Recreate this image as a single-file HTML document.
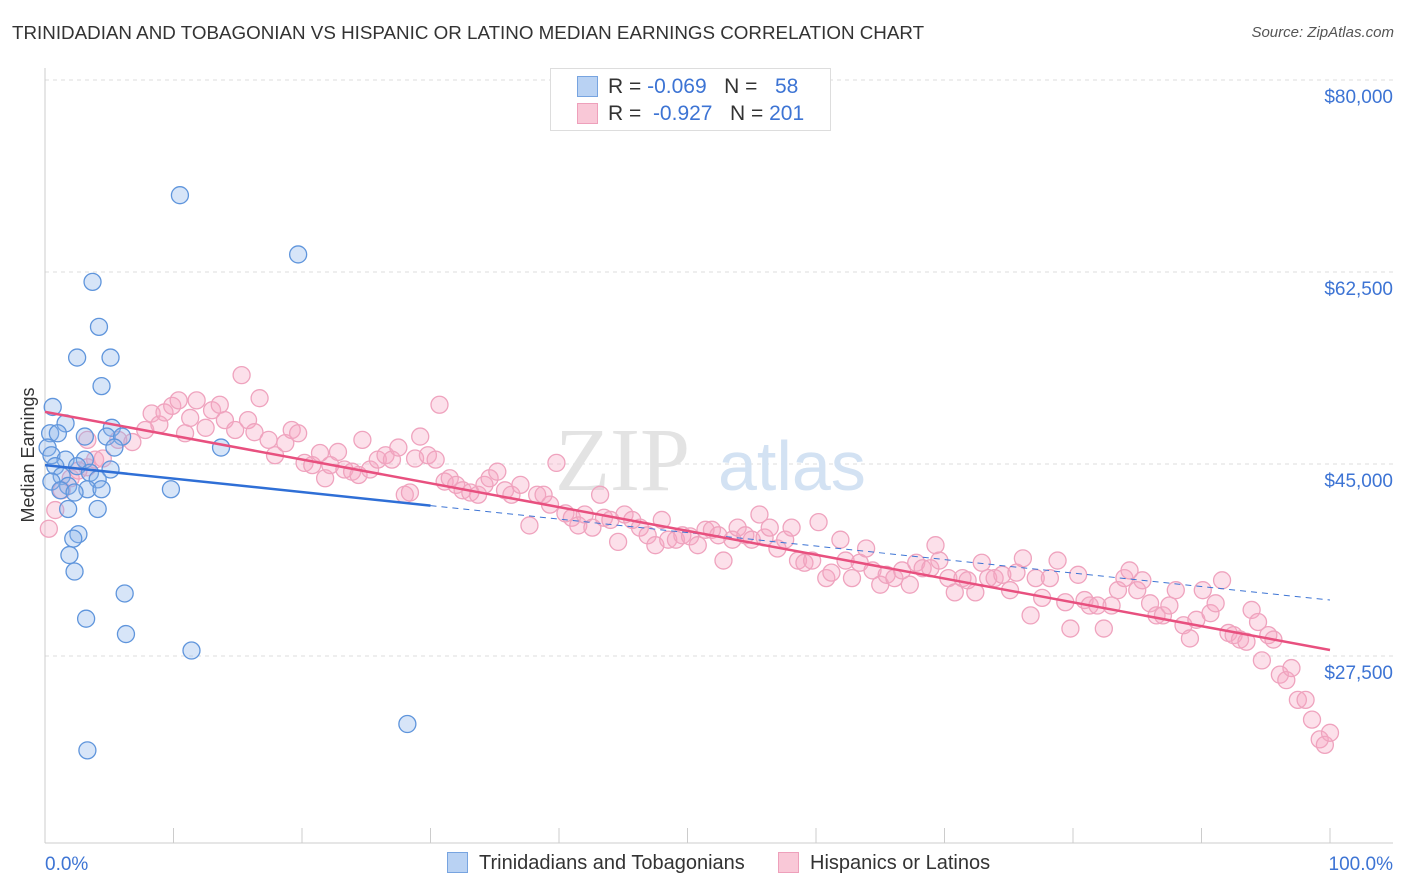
<!DOCTYPE html>
<html><head><meta charset="utf-8">
<style>
body{margin:0;background:#fff;font-family:"Liberation Sans",sans-serif;}
#wrap{position:relative;width:1406px;height:892px;overflow:hidden;}
.t{position:absolute;white-space:nowrap;}
</style></head>
<body>
<div id="wrap">
<div class="t" style="left:12px;top:22px;font-size:18.8px;color:#333;">TRINIDADIAN AND TOBAGONIAN VS HISPANIC OR LATINO MEDIAN EARNINGS CORRELATION CHART</div>
<div class="t" style="right:12px;top:24px;font-size:15px;color:#555;font-style:italic;">Source: ZipAtlas.com</div>
<svg id="plot" width="1406" height="892" style="position:absolute;left:0;top:0"></svg>
</div>
<script>
const yTicks=[80000,62500,45000,27500];
const yTickLabels=["$80,000","$62,500","$45,000","$27,500"];
const xTickLabels=["0.0%","100.0%"];
const blueX=[10.5,19.7,3.7,4.2,2.5,5.1,4.4,0.6,1.6,5.2,0.4,1.0,3.1,4.8,6.0,5.4,13.7,0.2,0.5,1.6,3.1,0.8,2.5,5.1,3.5,1.3,4.1,0.5,1.8,1.2,3.3,4.4,2.3,9.8,1.8,4.1,2.6,2.2,1.9,2.3,6.2,3.2,6.3,11.4,28.2,3.3];
const blueY=[69.5,64.1,61.6,57.5,54.7,54.7,52.1,50.2,48.7,48.3,47.8,47.8,47.5,47.5,47.5,46.5,46.5,46.5,45.8,45.4,45.4,44.8,44.8,44.5,44.2,43.9,43.6,43.4,43.0,42.6,42.7,42.7,42.4,42.7,40.9,40.9,38.6,38.2,36.7,35.2,33.2,30.9,29.5,28.0,21.3,18.9];
const pinkX=[0.3,0.8,1.3,2.0,2.6,3.3,3.9,4.5,3.3,5.7,6.8,7.8,8.3,8.9,9.3,9.9,10.4,10.9,11.3,11.8,12.5,13.0,13.6,14.0,14.8,15.3,15.8,16.3,16.7,17.4,17.9,18.7,19.2,19.7,20.2,20.8,21.4,21.8,22.2,22.8,23.3,23.9,24.4,24.7,25.3,25.9,26.5,27.0,27.5,28.0,28.4,28.8,29.2,29.8,30.4,30.7,31.1,31.5,32.0,32.5,33.1,33.7,34.2,34.6,35.2,35.8,36.3,37.0,37.7,38.3,38.8,39.3,39.8,40.5,41.0,41.5,42.0,42.6,43.2,43.5,44.0,44.6,45.1,45.7,46.3,46.9,47.5,48.0,48.5,49.1,49.6,50.2,50.8,51.4,51.9,52.4,52.8,53.5,53.9,54.5,55.0,55.6,56.0,56.4,57.0,57.6,58.1,58.6,59.1,59.7,60.2,60.8,61.2,61.9,62.3,62.8,63.4,63.9,64.4,65.0,65.5,66.1,66.7,67.3,67.8,68.3,68.9,69.3,69.6,70.3,70.8,71.4,71.8,72.4,72.9,73.4,73.9,74.5,75.1,75.6,76.1,76.7,77.1,77.6,78.2,78.8,79.4,79.8,80.4,80.9,81.3,81.9,82.4,83.0,83.5,84.0,84.4,85.0,85.4,86.0,86.5,87.0,87.5,88.0,88.6,89.1,89.6,90.1,90.7,91.1,91.6,92.1,92.5,93.0,93.5,93.9,94.4,94.7,95.2,95.6,96.1,96.6,97.0,97.5,98.1,98.6,99.2,99.6,100.0];
const pinkY=[39.1,40.8,42.6,43.7,44.4,44.7,45.4,45.5,47.2,47.2,47.0,48.1,49.6,48.6,49.7,50.3,50.8,47.8,49.2,50.8,48.3,49.9,50.4,49.0,48.1,53.1,49.0,47.9,51.0,47.2,45.8,46.9,48.1,47.8,45.1,44.9,46.0,43.7,44.9,46.1,44.5,44.3,44.0,47.2,44.5,45.4,45.8,45.4,46.5,42.2,42.4,45.5,47.5,45.8,45.4,50.4,43.4,43.7,43.1,42.6,42.4,42.2,43.1,43.7,44.3,42.6,42.2,43.1,39.4,42.2,42.2,41.3,45.1,40.5,40.1,39.4,40.4,39.2,42.2,40.1,39.9,37.9,40.4,39.9,39.2,38.5,37.6,39.9,38.1,38.1,38.5,38.4,37.6,39.0,39.0,38.5,36.2,38.1,39.2,38.5,38.1,40.4,38.3,39.2,37.3,38.1,39.2,36.2,36.0,36.2,39.7,34.6,35.1,38.1,36.2,34.6,36.0,37.3,35.3,34.0,34.9,34.6,35.3,34.0,36.0,35.5,35.5,37.6,36.2,34.6,33.3,34.6,34.4,33.3,36.0,34.6,34.6,34.9,33.5,35.1,36.4,31.2,34.6,32.8,34.6,36.2,32.4,30.0,34.9,32.6,32.1,32.1,30.0,32.1,33.5,34.6,35.3,33.5,34.4,32.3,31.2,31.2,32.1,33.5,30.3,29.1,30.8,33.5,31.4,32.3,34.4,29.6,29.4,29.0,28.8,31.7,30.6,27.1,29.4,29.0,25.8,25.3,26.4,23.5,23.5,21.7,19.9,19.4,20.5];
const blueTrend=[44.9,32.6];
const pinkTrend=[49.75,28.05];
const NS="http://www.w3.org/2000/svg";
const svg=document.getElementById('plot');
const X0=45,X1=1330;
function sx(p){return X0+(X1-X0)*p/100;}
function sy(v){return 80+(80000-v)*192/17500;}
function mk(tag,attrs,parent){const e=document.createElementNS(NS,tag);for(const k in attrs)e.setAttribute(k,attrs[k]);(parent||svg).appendChild(e);return e;}
yTicks.forEach((v,i)=>{
 const g=mk('line',{x1:45,x2:1393,y1:sy(v),y2:sy(v),stroke:'#ddd','stroke-dasharray':'4,4'});
 
 
 const t=mk('text',{x:1393,y:sy(v)+23,'text-anchor':'end','font-size':19,fill:'#3d74d4','font-family':'Liberation Sans'});
 t.textContent=yTickLabels[i];
 
 
});
const ya=mk('line',{x1:45,x2:45,y1:68,y2:843,stroke:'#ccc'});


const xa=mk('line',{x1:45,x2:1393,y1:843,y2:843,stroke:'#ccc'});


for(let i=0;i<=10;i++){const tk=mk('line',{x1:sx(i*10),x2:sx(i*10),y1:828,y2:843,stroke:'#ccc'});
 
 }
[[0,'start',45],[1,'end',1393]].forEach(([i,a,x])=>{const t=mk('text',{x:x,y:870,'text-anchor':a,'font-size':19,fill:'#3d74d4','font-family':'Liberation Sans'});t.textContent=xTickLabels[i];
 
 });
const yt=mk('text',{x:0,y:0,transform:'translate(34,455) rotate(-90)','text-anchor':'middle','font-size':18,fill:'#333','font-family':'Liberation Sans'});yt.textContent='Median Earnings';


const wm=mk('text',{x:555,y:490,'font-size':90,fill:'#e3e3e3','font-family':'Liberation Serif'});wm.textContent='ZIP';


const wm2=mk('text',{x:718,y:490,'font-size':70,fill:'#d3e2f3','font-family':'Liberation Sans'});wm2.textContent='atlas';


pinkX.forEach((p,i)=>{const c=mk('circle',{cx:sx(p),cy:sy(pinkY[i]*1000),r:8.5,fill:'rgba(245,165,195,0.35)',stroke:'#efa3be','stroke-width':1.3});
 
 });
blueX.forEach((p,i)=>{const c=mk('circle',{cx:sx(p),cy:sy(blueY[i]*1000),r:8.5,fill:'rgba(140,180,235,0.35)',stroke:'#5f95dc','stroke-width':1.3});
 
 });
function tv(tr,p){return (tr[0]+(tr[1]-tr[0])*p/100)*1000;}
const bd=mk('line',{x1:sx(30),y1:sy(tv(blueTrend,30)),x2:sx(100),y2:sy(tv(blueTrend,100)),stroke:'#3d74d4','stroke-width':1,'stroke-dasharray':'6,5'});


const bl=mk('line',{x1:sx(0),y1:sy(tv(blueTrend,0)),x2:sx(30),y2:sy(tv(blueTrend,30)),stroke:'#2f6fd6','stroke-width':2.5});


const pl=mk('line',{x1:sx(0),y1:sy(tv(pinkTrend,0)),x2:sx(100),y2:sy(tv(pinkTrend,100)),stroke:'#e8507f','stroke-width':2.5});


</script>
<div class="t" style="left:550px;top:68px;width:279px;height:61px;border:1px solid #ddd;background:#fff;font-size:21px;color:#333;">
 <div style="position:absolute;left:26px;top:7px;width:19px;height:19px;background:#b9d2f3;border:1px solid #77a4e0;"></div>
 <div style="position:absolute;left:57px;top:6px;">R = <span style="color:#3d74d4">-0.069</span>&nbsp;&nbsp;&nbsp;N = &nbsp;&nbsp;<span style="color:#3d74d4">58</span></div>
 <div style="position:absolute;left:26px;top:34px;width:19px;height:19px;background:#f9c8d7;border:1px solid #eea0bb;"></div>
 <div style="position:absolute;left:57px;top:33px;">R = &nbsp;<span style="color:#3d74d4">-0.927</span>&nbsp;&nbsp;&nbsp;N = <span style="color:#3d74d4">201</span></div>
</div>
<div class="t" style="left:447px;top:852px;font-size:20px;color:#333;"><span style="display:inline-block;width:19px;height:19px;background:#b9d2f3;border:1px solid #77a4e0;vertical-align:-4px;margin-right:11px;"></span>Trinidadians and Tobagonians</div>
<div class="t" style="left:778px;top:852px;font-size:20px;color:#333;"><span style="display:inline-block;width:19px;height:19px;background:#f9c8d7;border:1px solid #eea0bb;vertical-align:-4px;margin-right:11px;"></span>Hispanics or Latinos</div>
</body></html>
